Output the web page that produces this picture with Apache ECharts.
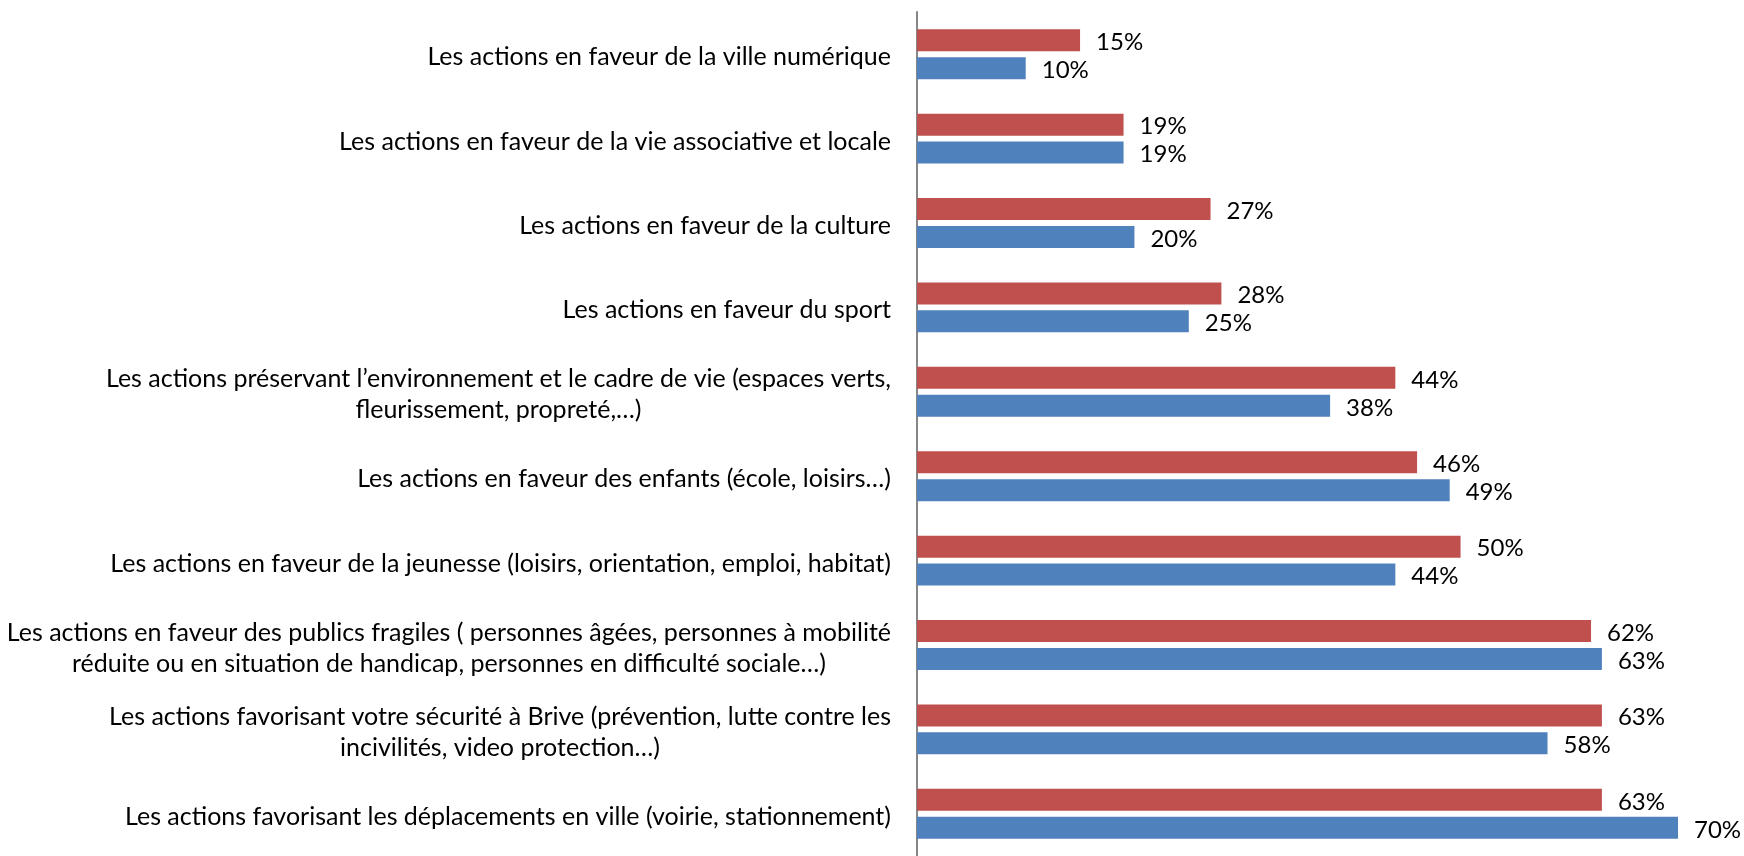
<!DOCTYPE html>
<html>
<head>
<meta charset="utf-8">
<style>
  html, body { margin: 0; padding: 0; background: #fff; }
  #chart { width: 1744px; height: 856px; }
</style>
<script src="https://cdn.jsdelivr.net/npm/echarts@6/dist/echarts.min.js"></script>
</head>
<body>
<div id="chart"></div>
<script>
const categories = [
  "Les actions en faveur de la ville numérique",
  "Les actions en faveur de la vie associative et locale",
  "Les actions en faveur de la culture",
  "Les actions en faveur du sport",
  "Les actions préservant l’environnement et le cadre de vie (espaces verts,\nfleurissement, propreté,…)",
  "Les actions en faveur des enfants (école, loisirs…)",
  "Les actions en faveur de la jeunesse (loisirs, orientation, emploi, habitat)",
  "Les actions en faveur des publics fragiles ( personnes âgées, personnes à mobilité\nréduite ou en situation de handicap, personnes en difficulté sociale…)",
  "Les actions favorisant votre sécurité à Brive (prévention, lutte contre les\nincivilités, video protection…)",
  "Les actions favorisant les déplacements en ville (voirie, stationnement)"
];
const redValues = [15, 19, 27, 28, 44, 46, 50, 62, 63, 63];
const blueValues = [10, 19, 20, 25, 38, 49, 44, 63, 58, 70];

const FONT = "Lato";

var myChart = echarts.init(document.getElementById("chart"));

const valueLabel = {
  show: true,
  position: "right",
  distance: 16,
  offset: [0, 2],
  formatter: "{c}%",
  color: "#000",
  fontFamily: FONT,
  fontSize: 24,
};

myChart.setOption({
  animation: false,
  grid: {
    left: 917,
    right: 66,
    top: 12,
    height: 850,
  },
  xAxis: {
    type: "value",
    min: 0,
    max: 70,
    show: false,
  },
  yAxis: {
    type: "category",
    inverse: true,
    data: categories,
    axisLine: { show: true, lineStyle: { color: "#868686", width: 2 } },
    axisTick: { show: false },
    axisLabel: {
      margin: 26,
      color: "#000",
      fontFamily: FONT,
      fontSize: 25,
      lineHeight: 31,
      padding: [6, 0, 0, 0],
      formatter: function (v) {
        return v.split("\n").map(function (l) { return "{c|" + l + "}"; }).join("\n");
      },
      rich: {
        c: { align: "center", fontFamily: FONT, fontSize: 25, lineHeight: 31, color: "#000" },
      },
    },
  },
  series: [
    {
      name: "Série 1",
      type: "bar",
      data: redValues,
      barWidth: 22,
      barGap: "27%",
      itemStyle: { color: "#C0504D" },
      label: valueLabel,
    },
    {
      name: "Série 2",
      type: "bar",
      data: blueValues,
      barWidth: 22,
      barGap: "27%",
      itemStyle: { color: "#4F81BD" },
      label: valueLabel,
    },
  ],
});
</script>
</body>
</html>
